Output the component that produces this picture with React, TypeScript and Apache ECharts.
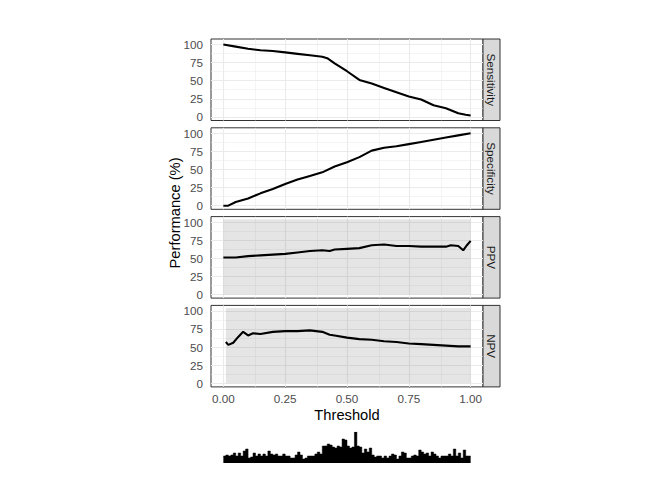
import { useEffect, useRef } from 'react';
import * as echarts from 'echarts';

// facet labels (top to bottom)
const panelNames = ['Sensitivity', 'Specificity', 'PPV', 'NPV'];

// curves, threshold -> performance (%)
const sensThreshold = [0, 0.05, 0.1, 0.15, 0.2, 0.25, 0.3, 0.35, 0.4, 0.42, 0.45, 0.5, 0.55, 0.6, 0.65, 0.7, 0.75, 0.8, 0.85, 0.9, 0.95, 0.98, 1.0];
const sensValue = [100, 97, 94, 92, 91, 89, 87, 85, 83, 81, 74, 63, 51, 46, 40, 34, 28, 24, 16, 12, 5, 3, 2];

const specThreshold = [0, 0.02, 0.05, 0.1, 0.15, 0.2, 0.25, 0.3, 0.35, 0.4, 0.45, 0.5, 0.55, 0.6, 0.65, 0.7, 0.75, 0.8, 0.85, 0.9, 0.95, 1.0];
const specValue = [0, 0, 5, 10, 17, 23, 30, 36, 41, 46, 54, 60, 67, 76, 80, 82, 85, 88, 91, 94, 97, 100];

const ppvThreshold = [0, 0.05, 0.1, 0.15, 0.2, 0.25, 0.3, 0.35, 0.4, 0.43, 0.45, 0.5, 0.55, 0.6, 0.65, 0.7, 0.75, 0.8, 0.85, 0.9, 0.92, 0.95, 0.97, 0.985, 1.0];
const ppvValue = [51, 51, 53, 54, 55, 56, 58, 60, 61, 60, 62, 63, 64, 68, 69, 67, 67, 66, 66, 66, 68, 67, 61, 68, 74];

const npvThreshold = [0.01, 0.02, 0.04, 0.06, 0.08, 0.1, 0.12, 0.15, 0.2, 0.25, 0.3, 0.35, 0.4, 0.43, 0.45, 0.5, 0.55, 0.6, 0.65, 0.7, 0.75, 0.8, 0.85, 0.9, 0.95, 1.0];
const npvValue = [57, 53, 56, 64, 71, 66, 69, 68, 71, 72, 72, 73, 71, 67, 66, 63, 61, 60, 58, 57, 55, 54, 53, 52, 51, 51];

// grey ribbons behind PPV / NPV: [from, to] threshold, [low, high] %
const ppvBand = [0, 1, 0, 104];
const npvBand = [0.01, 1, 0, 104];

// histogram of predicted probabilities, 100 bins of 0.01
const histBinWidth = 0.01;
const histCounts = [
  7, 8, 7, 8, 10, 7, 10, 7, 12, 14,
  5, 6, 10, 7, 9, 7, 9, 7, 12, 9,
  8, 9, 7, 7, 9, 7, 7, 5, 5, 8,
  11, 8, 4, 5, 7, 7, 7, 9, 11, 9,
  17, 17, 19, 18, 16, 15, 17, 16, 24, 23,
  17, 15, 16, 31, 17, 16, 10, 14, 11, 15,
  8, 6, 7, 7, 5, 7, 5, 7, 9, 8,
  4, 7, 11, 10, 5, 5, 7, 8, 7, 13,
  11, 9, 10, 7, 11, 9, 7, 5, 7, 7,
  7, 9, 7, 14, 7, 10, 5, 13, 7, 7,
];

const yTicks = [0, 25, 50, 75, 100];
const yMinor = [12.5, 37.5, 62.5, 87.5];
const xTicks = [0, 0.25, 0.5, 0.75, 1];
const xMinor = [0.125, 0.375, 0.625, 0.875];

const FONT = '"Liberation Sans", Arial, sans-serif';
const LEFT = 211;
const WIDTH = 272;
const TOP = 39;
const HEIGHT = 81.5;
const STEP = 88.8;
const STRIP = 17;

const zip = (xs: number[], ys: number[]) => xs.map((x, i) => [x, ys[i]]);

export default function App() {
  const chartRef = useRef<HTMLDivElement>(null);

  useEffect(() => {
    if (!chartRef.current) return;
    const chart = echarts.init(chartRef.current, null, { renderer: 'svg' });

    const curves = [
      zip(sensThreshold, sensValue),
      zip(specThreshold, specValue),
      zip(ppvThreshold, ppvValue),
      zip(npvThreshold, npvValue),
    ];
    const bands = [null, null, ppvBand, npvBand];

    // histogram as a filled step outline: each bin's left edge carries its count
    const histSteps = histCounts.map((c, i) => [i * histBinWidth, c]);
    histSteps.push([histCounts.length * histBinWidth, histCounts[histCounts.length - 1]]);

    const grids: any[] = panelNames.map((_, i) => ({
      left: LEFT,
      top: TOP + i * STEP,
      width: WIDTH,
      height: HEIGHT,
      show: true,
      backgroundColor: '#ffffff',
      borderColor: '#333333',
      borderWidth: 1,
    }));
    grids.push({ left: LEFT, top: 432, width: WIDTH, height: 31 });

    const xAxes: any[] = panelNames.map((_, i) => {
      const bottom = i === panelNames.length - 1;
      return {
        type: 'value',
        gridIndex: i,
        min: -0.05,
        max: 1.05,
        axisLine: { show: false },
        splitLine: { show: false },
        axisTick: {
          show: bottom,
          customValues: xTicks,
          length: 4,
          lineStyle: { color: '#333333', width: 1 },
        },
        axisLabel: {
          show: bottom,
          customValues: xTicks,
          formatter: (v: number) => v.toFixed(2),
          margin: 6,
          fontSize: 11.7,
          color: '#4d4d4d',
          fontFamily: FONT,
        },
        name: bottom ? 'Threshold' : '',
        nameLocation: 'middle',
        nameGap: 21,
        nameTextStyle: { fontSize: 14.7, color: '#000000', fontFamily: FONT },
      };
    });
    xAxes.push({ type: 'value', gridIndex: 4, min: -0.05, max: 1.05, show: false });

    const yAxes: any[] = panelNames.map((_, i) => ({
      type: 'value',
      gridIndex: i,
      min: -5,
      max: 107.5,
      axisLine: { show: false },
      splitLine: { show: false },
      axisTick: {
        show: true,
        customValues: yTicks,
        length: 4,
        lineStyle: { color: '#333333', width: 1 },
      },
      axisLabel: {
        customValues: yTicks,
        margin: 8,
        fontSize: 11.7,
        color: '#4d4d4d',
        fontFamily: FONT,
      },
    }));
    yAxes.push({ type: 'value', gridIndex: 4, min: 0, max: 31, show: false });

    const minorStyle = { color: '#ebebeb', type: 'solid', width: 0.55 };
    const series: any[] = [];
    panelNames.forEach((name, i) => {
      // ggplot style grid lines
      series.push({
        type: 'line',
        name: name + ' grid',
        xAxisIndex: i,
        yAxisIndex: i,
        data: [],
        z: 1,
        silent: true,
        markLine: {
          z: 1,
          silent: true,
          symbol: ['none', 'none'],
          label: { show: false },
          emphasis: { disabled: true },
          lineStyle: { color: '#ebebeb', type: 'solid', width: 1.1 },
          data: [
            ...yTicks.map((v) => ({ yAxis: v })),
            ...yMinor.map((v) => ({ yAxis: v, lineStyle: minorStyle })),
            ...xTicks.map((v) => ({ xAxis: v })),
            ...xMinor.map((v) => ({ xAxis: v, lineStyle: minorStyle })),
          ],
        },
      });
      const band = bands[i];
      if (band) {
        series.push({
          type: 'line',
          name: name + ' band',
          xAxisIndex: i,
          yAxisIndex: i,
          data: [],
          z: 2,
          silent: true,
          markArea: {
            z: 2,
            silent: true,
            emphasis: { disabled: true },
            itemStyle: { color: 'rgba(0,0,0,0.1)' },
            data: [[{ xAxis: band[0], yAxis: band[2] }, { xAxis: band[1], yAxis: band[3] }]],
          },
        });
      }
      series.push({
        type: 'line',
        name,
        xAxisIndex: i,
        yAxisIndex: i,
        data: curves[i],
        showSymbol: false,
        z: 3,
        lineStyle: { color: '#000000', width: 2.1 },
      });
    });
    series.push({
      type: 'line',
      name: 'histogram',
      xAxisIndex: 4,
      yAxisIndex: 4,
      data: histSteps,
      step: 'end',
      showSymbol: false,
      silent: true,
      lineStyle: { color: '#000000', width: 0.5 },
      areaStyle: { color: '#000000', opacity: 1 },
    });

    const graphics: any[] = [];
    panelNames.forEach((name, i) => {
      const top = TOP + i * STEP;
      graphics.push({
        type: 'rect',
        shape: { x: LEFT + WIDTH, y: top, width: STRIP, height: HEIGHT },
        style: { fill: '#d9d9d9', stroke: '#333333', lineWidth: 1 },
        silent: true,
      });
      graphics.push({
        type: 'text',
        x: LEFT + WIDTH + STRIP / 2,
        y: top + HEIGHT / 2,
        rotation: -Math.PI / 2,
        style: {
          text: name,
          fontSize: 11.7,
          fontFamily: FONT,
          fill: '#1a1a1a',
          align: 'center',
          verticalAlign: 'middle',
        },
        silent: true,
      });
    });
    graphics.push({
      type: 'text',
      x: 175,
      y: TOP + (3 * STEP + HEIGHT) / 2,
      rotation: Math.PI / 2,
      style: {
        text: 'Performance (%)',
        fontSize: 14.7,
        fontFamily: FONT,
        fill: '#000000',
        align: 'center',
        verticalAlign: 'middle',
      },
      silent: true,
    });

    chart.setOption({
      animation: false,
      backgroundColor: '#ffffff',
      grid: grids,
      xAxis: xAxes,
      yAxis: yAxes,
      series,
      graphic: graphics,
    });

    return () => {
      chart.dispose();
    };
  }, []);

  return (
    <div
      ref={chartRef}
      style={{ position: 'fixed', left: 0, top: 0, width: 672, height: 480 }}
    />
  );
}
